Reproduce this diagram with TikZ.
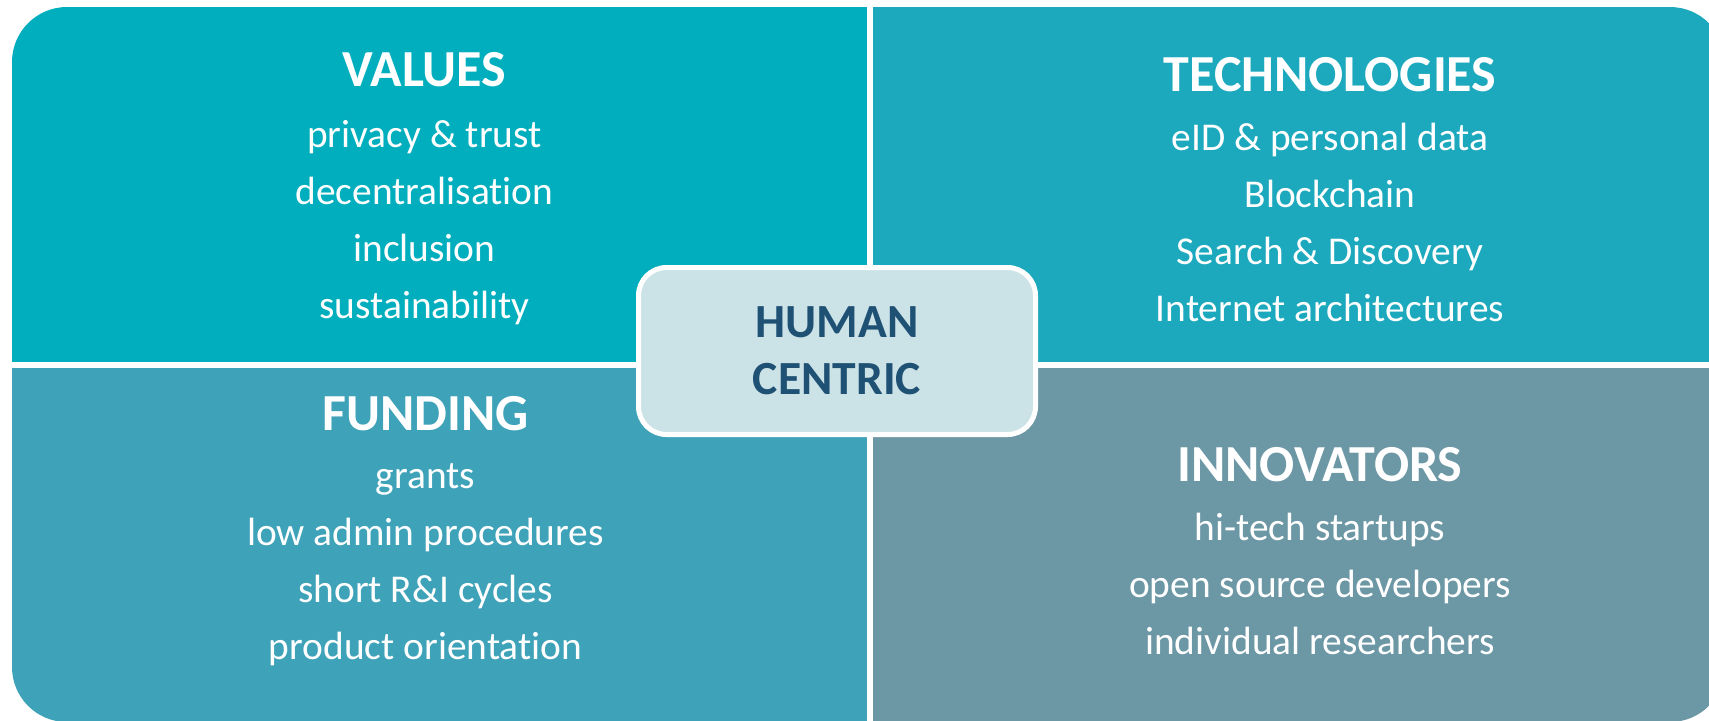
\documentclass[tikz,border=0pt]{standalone}
\usepackage{fontspec}
\setmainfont{Carlito}[Ligatures={NoCommon}]
\usetikzlibrary{positioning}
\usepackage{xcolor}

\definecolor{valuescol}{HTML}{00AEBD}
\definecolor{techcol}{HTML}{1CA9BD}
\definecolor{fundcol}{HTML}{3EA2B9}
\definecolor{innovcol}{HTML}{6C97A5}
\definecolor{humanfill}{HTML}{CBE2E7}
\definecolor{humantext}{HTML}{1F5174}

\begin{document}
\begin{tikzpicture}[x=0.5pt, y=-0.5pt, node distance=28.5pt]

	\tikzset{
	head/.style={text=white, font=\fontsize{26}{30}\selectfont\bfseries, inner sep=0pt, text height=14pt, text depth=4pt},
	item/.style={text=white, font=\fontsize{19.7}{24}\selectfont, inner sep=0pt, text height=14pt, text depth=4pt},
	centerbox/.style={draw=white, line width=2.5pt, fill=humanfill, rounded corners=14pt, minimum width=198.5pt, minimum height=83.5pt, align=center, text=humantext, font=\fontsize{23.8}{28.7}\selectfont\bfseries}
	}

	% Frame
	\useasboundingbox (0,0) rectangle (1709,720);
	\clip (0,0) rectangle (1709,720);
	\begin{scope}
	\clip[rounded corners=27.5pt] (12,7) rectangle (1725,722);
	\fill[valuescol] (12,7) rectangle (867,362);
	\fill[techcol] (873,7) rectangle (1725,362);
	\fill[fundcol] (12,368) rectangle (867,722);
	\fill[innovcol] (873,368) rectangle (1725,722);
	\end{scope}

	% Values
	\node[head, anchor=base] (values) at (424.5,86) {VALUES};
	\node[item, below of=values, node distance=30.5pt] (val1) {privacy \& trust};
	\node[item, below of=val1] (val2) {decentralisation};
	\node[item, below of=val2] (val3) {inclusion};
	\node[item, below of=val3] (val4) {sustainability};

	% Technologies
	\node[head, anchor=base] (tech) at (1330,91) {TECHNOLOGIES};
	\node[item, below of=tech, node distance=29.5pt] (tech1) {eID \& personal data};
	\node[item, below of=tech1] (tech2) {Blockchain};
	\node[item, below of=tech2] (tech3) {Search \& Discovery};
	\node[item, below of=tech3] (tech4) {Internet architectures};

	% Funding
	\node[head, anchor=base] (funding) at (425.5,430) {FUNDING};
	\node[item, below of=funding, node distance=29pt] (fund1) {grants};
	\node[item, below of=fund1] (fund2) {low admin procedures};
	\node[item, below of=fund2] (fund3) {short R\&I cycles};
	\node[item, below of=fund3] (fund4) {product orientation};

	% Innovators
	\node[head, anchor=base] (innov) at (1320,481.7) {INNOVATORS};
	\node[item, below of=innov, node distance=29.5pt] (innov1) {hi-tech startups};
	\node[item, below of=innov1] (innov2) {open source developers};
	\node[item, below of=innov2] (innov3) {individual researchers};

	% Centre
	\node[centerbox] (human) at (837,351) {HUMAN\\CENTRIC};

\end{tikzpicture}
\end{document}
